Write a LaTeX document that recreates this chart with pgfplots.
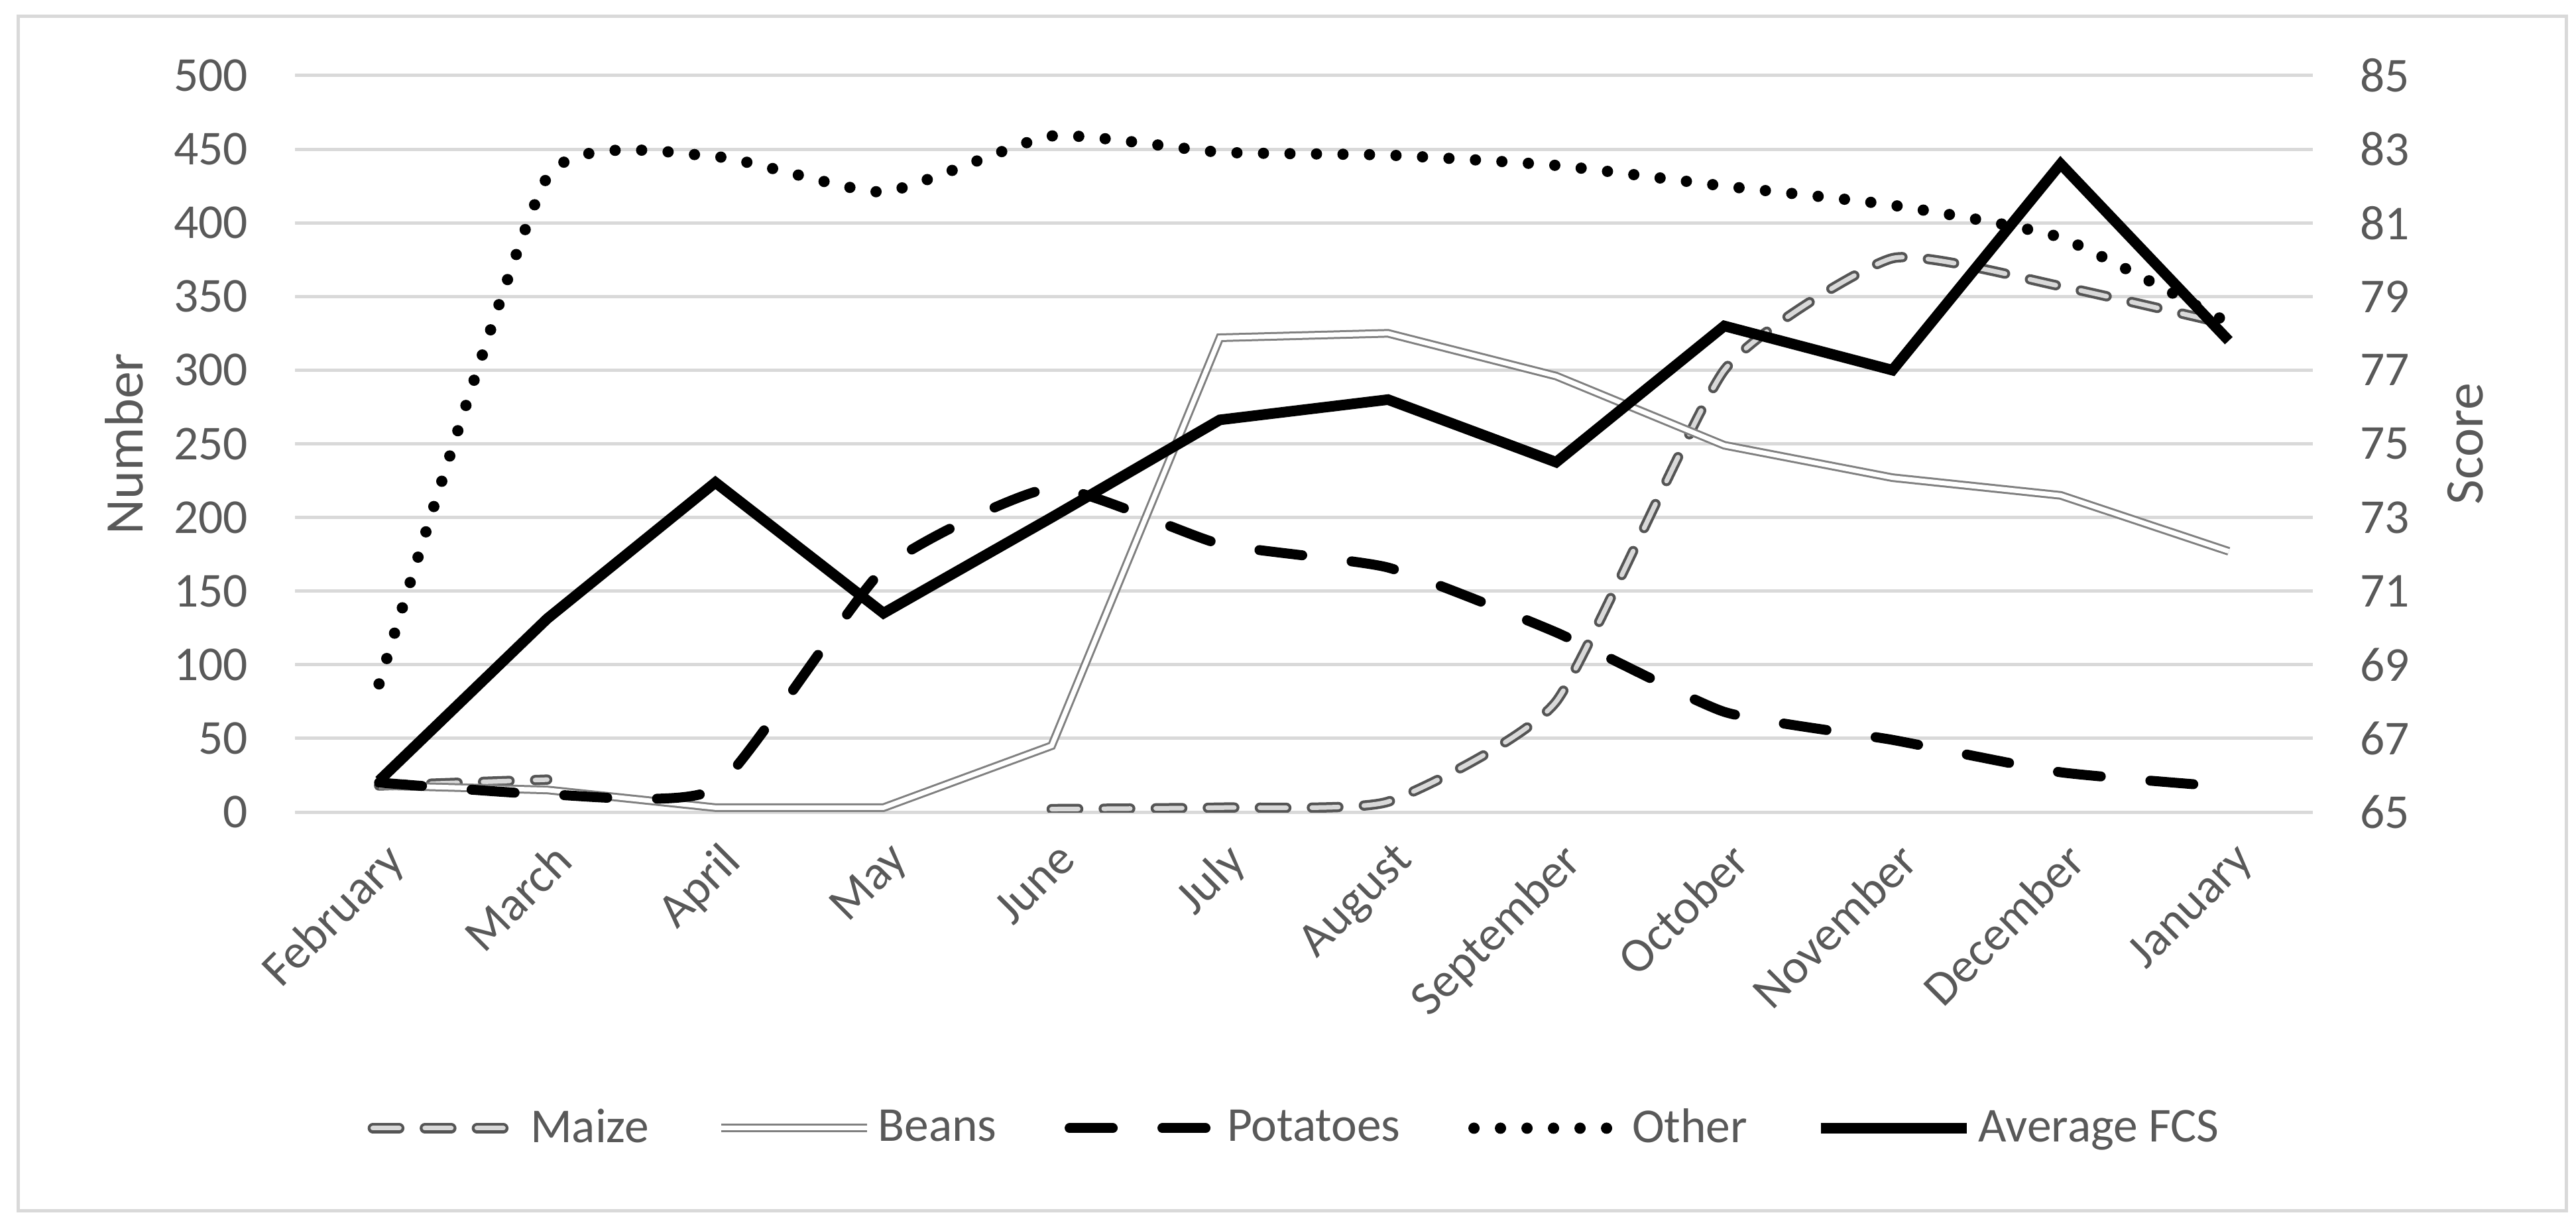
\documentclass[border=0pt]{standalone}
\usepackage{fontspec}
\setmainfont{Carlito}
\usepackage{pgfplots}
\usepackage{pgfplotstable}
\pgfplotsset{compat=1.18}
\definecolor{txt}{HTML}{595959}
\definecolor{gridc}{HTML}{D9D9D9}
\definecolor{beansc}{HTML}{808080}
\definecolor{maizec}{HTML}{555555}

\tikzset{
 maizestyle/.style={draw=maizec, line width=0.85pt, double=white!85!black, double distance=1.4pt, line cap=round, dash pattern=on 8pt off 7.7pt},
 beansstyle/.style={draw=beansc, line width=0.6pt, double=white, double distance=1.4pt},
 potstyle/.style={draw=black, line width=3pt, line cap=round, dash pattern=on 13pt off 15pt},
 otherstyle/.style={draw=black, line width=3.4pt, line cap=round, dash pattern=on 0pt off 8pt},
 fcsstyle/.style={draw=black, line width=3.2pt},
}

\pgfplotstableread{
x maize beans pot other fcs
0 18 18 20 87 65.85
1 22 15 12 431 70.25
2 nan 3 16 445 73.95
3 nan 3 165 421 70.4
4 2 45 220 459 73.0
5 3 322 182 448 75.65
6 7 325 166 446 76.2
7 75 296 122 439 74.5
8 300 249 68 425 78.2
9 376 227 49 412 77.0
10 357 215 27 390 82.6
11 331 177 17 332 77.8
}\datatab

\begin{document}
\begin{tikzpicture}
\useasboundingbox (0,0) rectangle (777.2pt,370pt);
\draw[gridc, line width=1pt] (5.4pt,4.8pt) rectangle (774.2pt,365pt);
\begin{axis}[
 at={(89pt,125pt)}, anchor=south west,
 width=608.8pt, height=222.2pt, scale only axis,
 xmin=-0.5, xmax=11.5, ymin=0, ymax=500,
 xtick={0,...,11},
 xticklabels={February,March,April,May,June,July,August,September,October,November,December,January},
 ytick={0,50,...,500},
 ymajorgrids, grid style={draw=gridc, line width=1pt},
 axis line style={draw=none}, major tick length=0pt, tick style={draw=none},
 ticklabel style={font=\fontsize{14.7}{17}\selectfont, text=txt},
 /pgf/number format/assume math mode=true,
 yticklabel style={anchor=east, inner sep=0pt, xshift=-14pt},
 xticklabel style={rotate=45, anchor=north east, inner sep=0pt, yshift=-6.5pt, xshift=-5pt},
 ylabel={Number},
 ylabel style={font=\fontsize{16.4}{19}\selectfont, text=txt, at={(axis description cs:-0.0848,0.5)}, anchor=center},
 unbounded coords=jump, no markers,
 legend columns=5,
 legend style={draw=none, fill=none, at={(axis description cs:0.4964,-0.4293)}, anchor=center,
   font=\fontsize{14.7}{17}\selectfont, text=txt, inner sep=0pt,
   /tikz/every even column/.append style={column sep=18.5pt}},
 legend image code/.code={\draw[#1] (0pt,0pt) -- (44pt,0pt);},
]
\addplot[maizestyle, smooth, tension=0.3] table[x=x,y=maize]{\datatab};
\addlegendentry{Maize}
\addplot[beansstyle] table[x=x,y=beans]{\datatab};
\addlegendentry{Beans}
\addplot[potstyle, smooth, tension=0.3] table[x=x,y=pot]{\datatab};
\addlegendentry{Potatoes}
\addplot[otherstyle, smooth, tension=0.3] table[x=x,y=other]{\datatab};
\addlegendentry{Other}
\addlegendimage{fcsstyle}
\addlegendentry{Average FCS}
\end{axis}
\begin{axis}[
 at={(89pt,125pt)}, anchor=south west,
 width=608.8pt, height=222.2pt, scale only axis,
 xmin=-0.5, xmax=11.5, ymin=65, ymax=85,
 ytick={65,67,...,85},
 hide x axis, axis y line*=right,
 axis line style={draw=none}, major tick length=0pt, tick style={draw=none},
 ticklabel style={font=\fontsize{14.7}{17}\selectfont, text=txt},
 /pgf/number format/assume math mode=true,
 yticklabel style={anchor=west, inner sep=0pt, xshift=14pt},
 ylabel={Score},
 ylabel style={font=\fontsize{16.4}{19}\selectfont, text=txt, at={(axis description cs:1.0756,0.5)}, anchor=center, rotate=0},
 no markers,
]
\addplot[fcsstyle] table[x=x,y=fcs]{\datatab};
\end{axis}
\end{tikzpicture}
\end{document}
